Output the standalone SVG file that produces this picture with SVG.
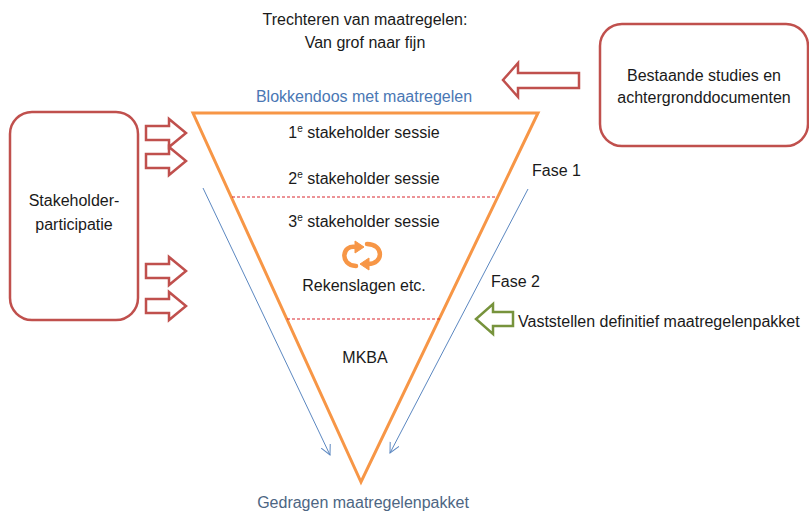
<svg xmlns="http://www.w3.org/2000/svg" width="809" height="512" viewBox="0 0 809 512">
<style>
text{font-family:"Liberation Sans","Open Sans",Arial,sans-serif;font-size:16px;fill:#1a1a1a}
.c{text-anchor:middle}
.blue{fill:#4a77b4}
.gray{fill:#4d6683}
.box{fill:#fff;stroke:#c0504d;stroke-width:2.5}
.red{fill:#fff;stroke:#c0504d;stroke-width:2.5;stroke-linejoin:miter}
.green{fill:#fff;stroke:#77933c;stroke-width:2.5}
.dash{stroke:#d9262e;stroke-width:1;stroke-dasharray:3 2;fill:none}
.flow{stroke:#5b87c0;stroke-width:1;fill:none}
</style>
<defs>
<marker id="ah" markerWidth="12" markerHeight="12" refX="10" refY="5" orient="auto" markerUnits="userSpaceOnUse">
<path d="M0,0 L10,5 L0,10" fill="none" stroke="#5b87c0" stroke-width="1"/>
</marker>
</defs>
<rect width="809" height="512" fill="#fff"/>
<g id="title">
<text class="c" x="365" y="25">Trechteren van maatregelen:</text>
<text class="c" x="365" y="48">Van grof naar fijn</text>
</g>
<g id="funnel">
<polygon points="193,113 538,113 361,482" fill="#fff" stroke="#f79646" stroke-width="3" stroke-linejoin="miter"/>
<line class="dash" x1="232" y1="197" x2="497" y2="197"/>
<line class="dash" x1="287" y1="319" x2="442" y2="319"/>
<text class="c blue" x="364" y="102">Blokkendoos met maatregelen</text>
<text class="c" x="364" y="138">1<tspan font-size="10" dy="-6">e</tspan><tspan dy="6"> stakeholder sessie</tspan></text>
<text class="c" x="364" y="184">2<tspan font-size="10" dy="-6">e</tspan><tspan dy="6"> stakeholder sessie</tspan></text>
<text class="c" x="364" y="227">3<tspan font-size="10" dy="-6">e</tspan><tspan dy="6"> stakeholder sessie</tspan></text>
<g id="cycle" fill="#f79646" stroke="#f79646">
<path d="M356,247 C342,244 339,265 356,266" fill="none" stroke-width="4.5" stroke-linecap="round"/>
<polygon points="355,241 364,247 355,253" stroke-width="1"/>
<path d="M367,244 C384,244 384,264 368,264" fill="none" stroke-width="4.5" stroke-linecap="round"/>
<polygon points="369,258 360,264 369,270" stroke-width="1"/>
</g>
<text class="c" x="364" y="291">Rekenslagen etc.</text>
<text class="c" x="365" y="363">MKBA</text>
<text class="c gray" x="363" y="508">Gedragen maatregelenpakket</text>
</g>
<g id="stakeholders">
<rect class="box" x="10" y="112" width="128" height="208" rx="22"/>
<text class="c" x="74" y="206">Stakeholder-</text>
<text class="c" x="74" y="230">participatie</text>
</g>
<g id="studies">
<rect class="box" x="600" y="24" width="208" height="122" rx="22"/>
<text class="c" x="704" y="81">Bestaande studies en</text>
<text class="c" x="704" y="103">achtergronddocumenten</text>
</g>
<g id="phases">
<text x="532" y="176">Fase 1</text>
<text x="491" y="287">Fase 2</text>
<text x="518" y="327">Vaststellen definitief maatregelenpakket</text>
</g>
<g id="connectors">
<polygon class="red" points="146,126 169,126 169,119 186,133 169,147 169,140 146,140"/>
<polygon class="red" points="146,154 169,154 169,147 186,161 169,175 169,168 146,168"/>
<polygon class="red" points="146,264 169,264 169,257 186,271 169,285 169,278 146,278"/>
<polygon class="red" points="146,299 169,299 169,292 186,306 169,320 169,313 146,313"/>
<polygon class="red" points="579,73 518,73 518,63 503,80 518,97 518,88 579,88"/>
<polygon class="green" points="513,312 493,312 493,304 476,319 493,334 493,326 513,326"/>
<line class="flow" x1="203" y1="188" x2="330" y2="455" marker-end="url(#ah)"/>
<line class="flow" x1="528" y1="189" x2="390" y2="453" marker-end="url(#ah)"/>
</g>
</svg>
